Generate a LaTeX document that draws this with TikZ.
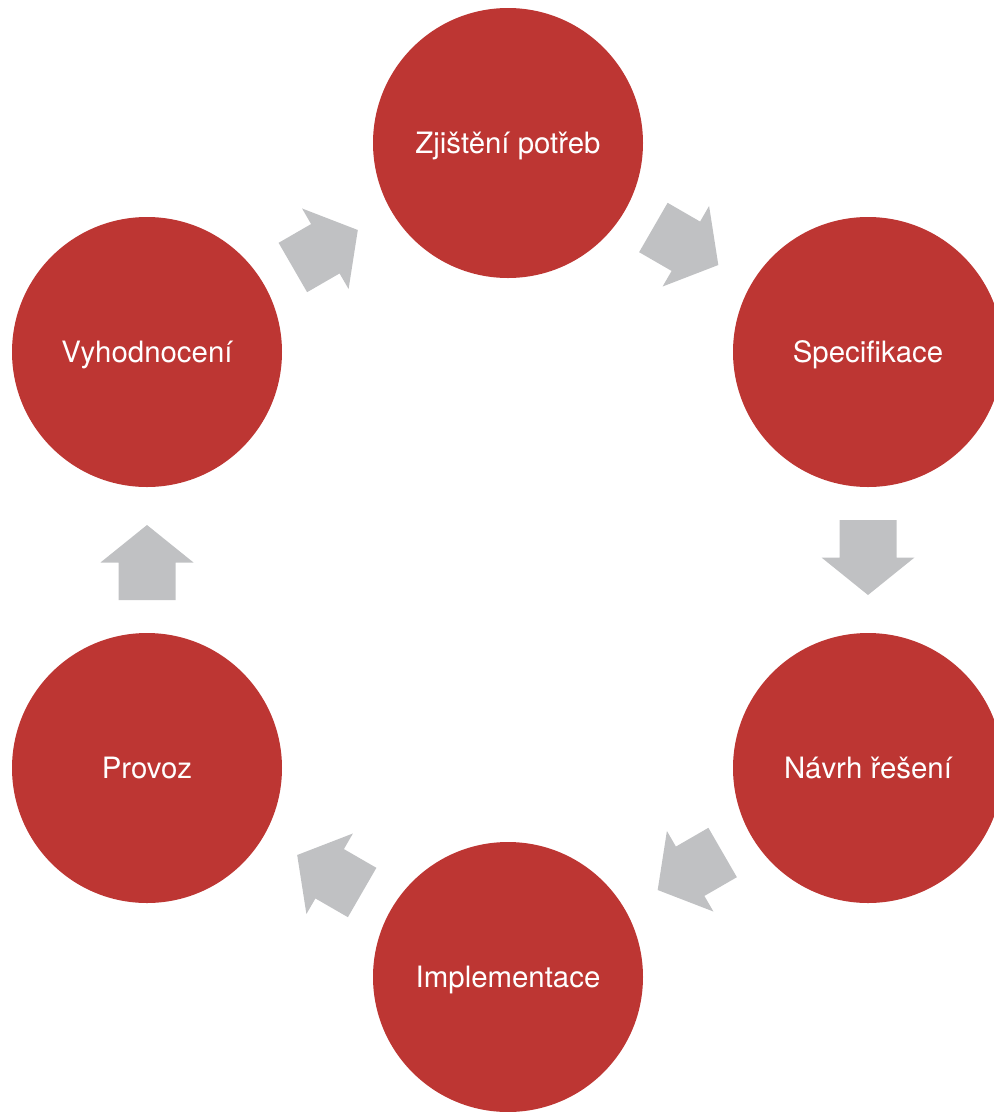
\documentclass[tikz,border=0pt]{standalone}
\usepackage{fontspec}
\setmainfont{TeX Gyre Heros}
\usetikzlibrary{calc}
\definecolor{stepred}{HTML}{BD3633}
\definecolor{arrowgray}{HTML}{C0C1C3}
\tikzset{
  stage/.style={circle, fill=stepred, minimum size=270pt, inner sep=0pt,
    text=white, font=\fontsize{29.4}{35}\selectfont, text height=21.1pt, text depth=0pt},
  pics/blockarrow/.style={code={\fill[arrowgray] (-37.5,-28.5) -- (0,-28.5) -- (0,-46.5) -- (37.5,0) -- (0,46.5) -- (0,28.5) -- (-37.5,28.5) -- cycle;}}
}
\begin{document}
\begin{tikzpicture}[x=1pt,y=-1pt]
\useasboundingbox (0,0) rectangle (994,1112);
\node[stage] (z) at (508,143) {Zjištění potřeb};
\node[stage] (s) at (868,352) {Specifikace};
\node[stage] (n) at (868,768) {Návrh řešení};
\node[stage] (i) at (508,977) {Implementace};
\node[stage] (p) at (147,768) {Provoz};
\node[stage] (v) at (147,352) {Vyhodnocení};
\pic[rotate=-30] at ($(z)!0.494!(s)$) {blockarrow};
\pic[rotate=-90] at ($(s)!0.494!(n)$) {blockarrow};
\pic[rotate=210] at ($(n)!0.494!(i)$) {blockarrow};
\pic[rotate=150] at ($(i)!0.494!(p)$) {blockarrow};
\pic[rotate=90] at ($(p)!0.494!(v)$) {blockarrow};
\pic[rotate=30] at ($(v)!0.494!(z)$) {blockarrow};
\end{tikzpicture}
\end{document}
